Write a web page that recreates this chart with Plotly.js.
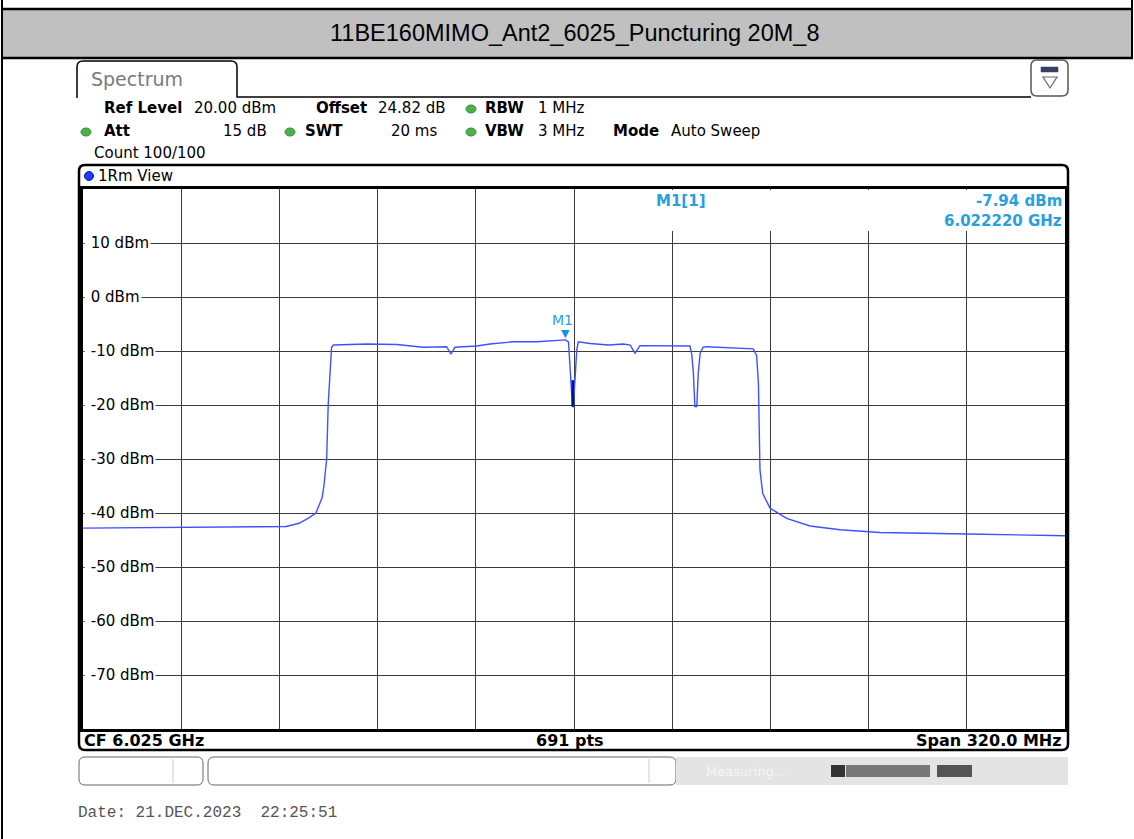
<!DOCTYPE html>
<html>
<head>
<meta charset="utf-8">
<script src="https://cdn.plot.ly/plotly-3.0.1.min.js"></script>
<style>
html,body{margin:0;padding:0;background:#fff;}
#chart{width:1134px;height:839px;}
</style>
</head>
<body>
<div id="chart"></div>
<script>
// ---- data ----
const chartTitle = "11BE160MIMO_Ant2_6025_Puncturing 20M_8";
const freqMHz = [5865.0, 5880.3, 5895.3, 5912.9, 5931.2, 5935.4, 5938.6, 5940.9, 5942.9, 5943.5,
  5944.4, 5944.9, 5945.5, 5946.0, 5946.6, 5957.5, 5967.2, 5975.9, 5983.5, 5984.9,
  5986.2, 5993.3, 5997.6, 6005.2, 6012.9, 6020.4, 6022.2, 6023.2, 6023.9, 6024.5,
  6024.8, 6025.3, 6025.9, 6026.4, 6030.2, 6036.2, 6041.1, 6043.3, 6044.9, 6046.5,
  6056.3, 6062.8, 6063.4, 6063.9, 6064.4, 6065.0, 6065.5, 6066.1, 6067.1, 6068.3,
  6083.4, 6084.5, 6085.1, 6085.4, 6085.6, 6086.5, 6088.9, 6094.3, 6101.9, 6111.7,
  6124.7, 6153.0, 6185.0];
const levelDBm = [-42.8, -42.75, -42.65, -42.6, -42.5, -41.9, -40.9, -40.0, -37.2, -35.0,
  -30.0, -20.0, -13.0, -9.3, -8.9, -8.7, -8.8, -9.3, -9.2, -10.6,
  -9.3, -9.07, -8.7, -8.3, -8.3, -7.96, -7.94, -8.3, -15.4, -20.3,
  -20.3, -15.9, -9.8, -8.3, -8.6, -8.9, -8.7, -8.9, -10.4, -9.0,
  -9.07, -9.07, -10.7, -14.1, -20.3, -20.3, -14.1, -10.4, -9.3, -9.2,
  -9.6, -10.8, -16.0, -24.0, -32.0, -36.4, -39.1, -41.0, -42.4, -43.1,
  -43.6, -43.9, -44.2];
const spikeFreqMHz = [6024.6, 6024.6];
const spikeDBm = [-15.4, -20.3];
const markerFreqMHz = 6022.22;
const markerDBm = -7.94;
const yTickVals = [10, 0, -10, -20, -30, -40, -50, -60, -70];
const yTickText = ["10 dBm", "0 dBm", "-10 dBm", "-20 dBm", "-30 dBm", "-40 dBm", "-50 dBm", "-60 dBm", "-70 dBm"];
const centerMHz = 6025, spanMHz = 320, refLevel = 20, divisions = 10, dbPerDiv = 10;

// ---- page geometry helpers (pixel -> paper) ----
const W = 1134, H = 839, L = 83, R = 1065, T = 189, B = 729;
const PX = x => (x - L) / (R - L);
const PY = y => (B - y) / (B - T);
const shapes = [], ann = [];
const FONT = 'DejaVu Sans, Verdana, sans-serif';
function rect(x0, y0, x1, y1, fill, lc, lw, layer) {
  shapes.push({type: 'rect', xref: 'paper', yref: 'paper', x0: PX(x0), x1: PX(x1), y0: PY(y1), y1: PY(y0),
    fillcolor: fill || 'rgba(0,0,0,0)', line: {color: lc || 'rgba(0,0,0,0)', width: lw || 0}, layer: layer || 'above'});
}
function line(x0, y0, x1, y1, c, w) {
  shapes.push({type: 'line', xref: 'paper', yref: 'paper', x0: PX(x0), x1: PX(x1), y0: PY(y0), y1: PY(y1),
    line: {color: c, width: w}, layer: 'above'});
}
function path(pts, c, w, fill) {
  const d = pts.map(p => (p[0] + ' ' + PX(p[1]) + ',' + PY(p[2]))).join(' ');
  shapes.push({type: 'path', xref: 'paper', yref: 'paper', path: d + (fill ? ' Z' : ''),
    fillcolor: fill || 'rgba(0,0,0,0)', line: {color: c, width: w}, layer: 'above'});
}
function roundRect(x0, y0, x1, y1, r, c, w, fill) {
  const d = `M${PX(x0 + r)},${PY(y0)} L${PX(x1 - r)},${PY(y0)} Q${PX(x1)},${PY(y0)} ${PX(x1)},${PY(y0 + r)} ` +
    `L${PX(x1)},${PY(y1 - r)} Q${PX(x1)},${PY(y1)} ${PX(x1 - r)},${PY(y1)} L${PX(x0 + r)},${PY(y1)} ` +
    `Q${PX(x0)},${PY(y1)} ${PX(x0)},${PY(y1 - r)} L${PX(x0)},${PY(y0 + r)} Q${PX(x0)},${PY(y0)} ${PX(x0 + r)},${PY(y0)} Z`;
  shapes.push({type: 'path', xref: 'paper', yref: 'paper', path: d, fillcolor: fill || 'rgba(0,0,0,0)',
    line: {color: c, width: w}, layer: 'above'});
}
function dot(cx, cy, rx, ry, fill, lc) {
  shapes.push({type: 'circle', xref: 'paper', yref: 'paper', x0: PX(cx - rx), x1: PX(cx + rx), y0: PY(cy + ry), y1: PY(cy - ry),
    fillcolor: fill, line: {color: lc || fill, width: 1}, layer: 'above'});
}
function text(x, y, t, opt) {
  opt = opt || {};
  ann.push({xref: 'paper', yref: 'paper', x: PX(x), y: PY(y), text: t, showarrow: false,
    xanchor: opt.anchor || 'left', yanchor: 'middle',
    font: {family: opt.family || FONT, size: opt.size || 15, color: opt.color || '#000',
      weight: opt.bold ? 'bold' : 'normal'},
    bgcolor: opt.bg || 'rgba(0,0,0,0)', borderpad: opt.pad || 0});
}

// page frame and header band
rect(2, 9, 1132, 58, '#c0c0c0', null, 0);
line(1, 9, 1133, 9, '#000', 2.5);
line(1, 58, 1133, 58, '#000', 2.5);
line(2, 0, 2, 839, '#000', 2);
line(1132, 0, 1132, 58, '#000', 2);
text(574, 33, chartTitle, {anchor: 'center', family: 'Liberation Sans, Arial, sans-serif', size: 23.5, color: '#000'});

// spectrum tab
path([['M', 77, 98], ['L', 77, 67], ['Q', 77, 61], ['', 83, 61], ['L', 231, 61], ['Q', 237, 61], ['', 237, 67],
  ['L', 237, 97], ['L', 1031, 97]], '#000', 1.5);
text(90, 79, 'Spectrum', {size: 19, color: '#7a7a7a'});
roundRect(1031, 60, 1068, 96, 6, '#555', 1.5, '#fff');
rect(1041, 67, 1058, 72, '#3a3f6a', '#3a3f6a', 0.5);
path([['M', 1043, 77], ['L', 1057, 77], ['L', 1050, 88]], '#666', 1.2, '#fff');

// instrument settings
const green = '#4cb04c';
text(103, 108, 'Ref Level', {bold: true});
text(193, 108, '20.00 dBm');
text(315, 108, 'Offset', {bold: true});
text(377, 108, '24.82 dB');
dot(471, 109, 5, 4, green, '#3a8a3a');
text(484, 108, 'RBW', {bold: true});
text(537, 108, '1 MHz');
dot(86, 132, 5, 4, green, '#3a8a3a');
text(103, 131, 'Att', {bold: true});
text(268, 131, '15 dB', {anchor: 'right'});
dot(290, 132, 5, 4, green, '#3a8a3a');
text(304, 131, 'SWT', {bold: true});
text(438, 131, '20 ms', {anchor: 'right'});
dot(471, 132, 5, 4, green, '#3a8a3a');
text(484, 131, 'VBW', {bold: true});
text(537, 131, '3 MHz');
text(612, 131, 'Mode', {bold: true});
text(670, 131, 'Auto Sweep');
text(93, 153, 'Count 100/100');

// diagram frame
roundRect(79, 165, 1068, 750, 6, '#000', 2.5);
line(79, 187.5, 1068, 187.5, '#000', 2.5);
line(79, 730, 1068, 730, '#000', 2);
dot(89, 176, 4.5, 4.5, '#1e3cff', '#102070');
text(97, 176, '1Rm View');
rect(592, 190, 1063, 231, '#fff', null, 0);

// bottom labels
text(83, 740, 'CF 6.025 GHz', {bold: true, size: 16});
text(570, 740, '691 pts', {bold: true, anchor: 'center', size: 16});
text(1063, 740, 'Span 320.0 MHz', {bold: true, anchor: 'right', size: 16});

// softkey / status bar
roundRect(79, 757, 203, 785, 6, '#666', 1, '#fff');
line(173, 759, 173, 783, '#ccc', 1);
roundRect(208, 757, 676, 785, 6, '#666', 1, '#fff');
line(649, 759, 649, 783, '#ccc', 1);
rect(676, 757, 1068, 785, '#e4e4e4', null, 0);
text(705, 771, 'Measuring...', {color: '#f6f6f6', size: 13});
rect(831, 765, 845, 777, '#333', null, 0);
rect(846, 765, 930, 777, '#777', null, 0);
rect(937, 765, 972, 777, '#555', null, 0);

// date
text(77, 813, 'Date: 21.DEC.2023 \u00a022:25:51', {family: 'Liberation Mono, Courier New, monospace', size: 16, color: '#555'});

// y tick labels inside plot (leading nbsp widens the white box to the frame)
yTickVals.forEach((v, i) => {
  ann.push({xref: 'paper', yref: 'y', x: PX(83.5), y: v, text: '\u00a0' + yTickText[i], showarrow: false, xanchor: 'left', yanchor: 'middle',
    font: {family: FONT, size: 15, color: '#000'}, bgcolor: '#fff', borderpad: 1});
});

// marker
const mBlue = '#2a9fe0';
ann.push({xref: 'x', yref: 'y', x: markerFreqMHz, y: markerDBm, text: 'M1', showarrow: false, yshift: 20, xshift: -3,
  font: {family: FONT, size: 14, color: mBlue}});
ann.push({xref: 'x', yref: 'y', x: markerFreqMHz, y: markerDBm, text: '\u25BC', showarrow: false, yshift: 6,
  font: {family: 'DejaVu Sans, sans-serif', size: 11, color: '#1a8fe0'}});
text(655, 201, 'M1[1]', {bold: true, color: mBlue});
text(1063, 201, markerDBm.toFixed(2) + ' dBm', {bold: true, color: mBlue, anchor: 'right'});
text(1063, 221, (markerFreqMHz / 1000).toFixed(6) + ' GHz', {bold: true, color: mBlue, anchor: 'right'});

const traces = [
  {x: freqMHz, y: levelDBm, type: 'scatter', mode: 'lines', line: {color: '#3f51ff', width: 1.4}, hoverinfo: 'skip'},
  {x: spikeFreqMHz, y: spikeDBm, type: 'scatter', mode: 'lines', line: {color: '#0010a0', width: 2.5}, hoverinfo: 'skip'}
];

const layout = {
  width: W, height: H,
  margin: {l: L, r: W - R, t: T, b: H - B, pad: 0},
  paper_bgcolor: '#fff', plot_bgcolor: '#fff',
  showlegend: false,
  xaxis: {range: [centerMHz - spanMHz / 2, centerMHz + spanMHz / 2], tick0: centerMHz - spanMHz / 2, dtick: spanMHz / divisions,
    showticklabels: false, ticks: '', showgrid: true, gridcolor: '#3a3a3a', gridwidth: 1, zeroline: false,
    showline: true, linecolor: '#000', linewidth: 3, mirror: true, fixedrange: true},
  yaxis: {range: [refLevel - divisions * dbPerDiv, refLevel], tick0: refLevel, dtick: dbPerDiv,
    showticklabels: false, ticks: '', showgrid: true, gridcolor: '#3a3a3a', gridwidth: 1, zeroline: false,
    showline: true, linecolor: '#000', linewidth: 3, mirror: true, fixedrange: true},
  shapes: shapes,
  annotations: ann
};
Plotly.newPlot('chart', traces, layout, {displayModeBar: false, staticPlot: true});
</script>
</body>
</html>
